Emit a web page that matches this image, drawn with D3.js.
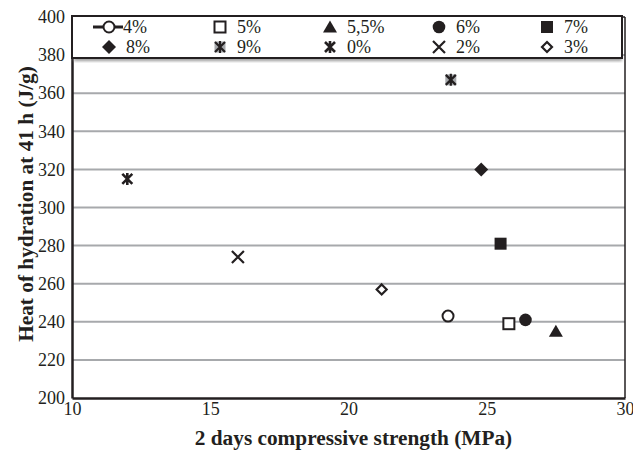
<!DOCTYPE html>
<html>
<head>
<meta charset="utf-8">
<script src="https://cdn.jsdelivr.net/npm/d3@7"></script>
<style>
  html, body { margin: 0; padding: 0; background: #fff; }
  svg { display: block; }
</style>
</head>
<body>
<svg id="chart" width="633" height="452"></svg>
<script>
// Mixes: additive dosage, 2-day compressive strength (MPa), heat of hydration at 41 h (J/g)
const seriesNames = ["4%", "5%", "5,5%", "6%", "7%", "8%", "9%", "0%", "2%", "3%"];
const strength    = [23.6, 25.8, 27.5, 26.4, 25.5, 24.8, 23.7, 12.0, 16.0, 21.2];
const heat        = [243, 239, 235, 241, 281, 320, 367, 315, 274, 257];
const markerTypes = ["circleOpen", "squareOpen", "triangle", "circle", "square",
                     "diamond", "starBox", "star", "cross", "diamondOpen"];

const xTicks = [10, 15, 20, 25, 30];
const yTicks = [200, 220, 240, 260, 280, 300, 320, 340, 360, 380, 400];

const ink = "#231f20";
const serif = "'Liberation Serif', 'Times New Roman', serif";
const svg = d3.select("#chart");

const x = d3.scaleLinear().domain([10, 30]).range([72, 625]);
const y = d3.scaleLinear().domain([200, 400]).range([398, 17]);

// horizontal gridlines
svg.append("g")
  .selectAll("line")
  .data(yTicks.filter(v => v > 200 && v < 400))
  .join("line")
  .attr("x1", x(10)).attr("x2", x(30))
  .attr("y1", d => y(d)).attr("y2", d => y(d))
  .attr("stroke", "#a7a9ac").attr("stroke-width", 2);

// plot frame: right and top borders thin, left and bottom axes heavier
svg.append("line").attr("x1", x(30)).attr("x2", x(30)).attr("y1", y(400)).attr("y2", y(200))
  .attr("stroke", ink).attr("stroke-width", 1.5);
svg.append("line").attr("x1", x(10)).attr("x2", x(30)).attr("y1", y(400)).attr("y2", y(400))
  .attr("stroke", ink).attr("stroke-width", 1.5);

// y axis
const yAxis = svg.append("g")
  .attr("transform", `translate(${x(10)},0)`)
  .call(d3.axisLeft(y).tickValues(yTicks).tickSize(0).tickPadding(7).tickFormat(d3.format("d")));
yAxis.attr("font-family", serif).attr("font-size", 18);
yAxis.select(".domain").attr("stroke", ink).attr("stroke-width", 2.5);
yAxis.selectAll("text").attr("fill", ink);

// x axis
const xAxis = svg.append("g")
  .attr("transform", `translate(0,${y(200)})`)
  .call(d3.axisBottom(x).tickValues(xTicks).tickSize(0).tickPadding(4).tickFormat(d3.format("d")));
xAxis.attr("font-family", serif).attr("font-size", 18);
xAxis.select(".domain").attr("stroke", ink).attr("stroke-width", 2.5);
xAxis.selectAll("text").attr("fill", ink);

// axis titles
svg.append("text")
  .attr("x", (x(10) + x(30)) / 2 + 5).attr("y", 445)
  .attr("text-anchor", "middle")
  .attr("font-family", serif).attr("font-size", 21.3).attr("font-weight", "bold").attr("fill", ink)
  .text("2 days compressive strength (MPa)");

svg.append("text")
  .attr("transform", `translate(33,204) rotate(-90)`)
  .attr("text-anchor", "middle")
  .attr("font-family", serif).attr("font-size", 21.3).attr("font-weight", "bold").attr("fill", ink)
  .text("Heat of hydration at 41 h (J/g)");

// marker drawing
function drawMarker(g, type) {
  const sw = 2;
  switch (type) {
    case "circleOpen":
      g.append("circle").attr("r", 5.5).attr("fill", "#fff").attr("stroke", ink).attr("stroke-width", sw);
      break;
    case "squareOpen":
      g.append("rect").attr("x", -5.5).attr("y", -5.5).attr("width", 11).attr("height", 11)
        .attr("fill", "#fff").attr("stroke", ink).attr("stroke-width", sw);
      break;
    case "triangle":
      g.append("path").attr("d", "M0,-6.5L7,5.5L-7,5.5Z").attr("fill", ink);
      break;
    case "circle":
      g.append("circle").attr("r", 6.3).attr("fill", ink);
      break;
    case "square":
      g.append("rect").attr("x", -6).attr("y", -6).attr("width", 12).attr("height", 12).attr("fill", ink);
      break;
    case "diamond":
      g.append("path").attr("d", "M0,-7L7,0L0,7L-7,0Z").attr("fill", ink);
      break;
    case "diamondOpen":
      g.append("path").attr("d", "M0,-5L5,0L0,5L-5,0Z").attr("fill", "#fff")
        .attr("stroke", ink).attr("stroke-width", 2.2);
      break;
    case "cross":
      g.append("path").attr("d", "M-6,-6L6,6M6,-6L-6,6").attr("stroke", ink)
        .attr("stroke-width", 2.2).attr("fill", "none");
      break;
    case "starBox":
      g.append("rect").attr("x", -5.5).attr("y", -5.5).attr("width", 11).attr("height", 11)
        .attr("fill", "#a7a9ac");
      g.append("path").attr("d", "M-5,-5L5,5M5,-5L-5,5M0,-6L0,6").attr("stroke", ink)
        .attr("stroke-width", 2.2).attr("fill", "none");
      break;
    case "star":
      g.append("path").attr("d", "M-5,-5L5,5M5,-5L-5,5M0,-6L0,6").attr("stroke", ink)
        .attr("stroke-width", 2.6).attr("fill", "none");
      break;
  }
}

// data points
const points = seriesNames.map((name, i) => ({ name, sx: strength[i], hy: heat[i], type: markerTypes[i] }));
svg.append("g")
  .selectAll("g")
  .data(points)
  .join("g")
  .attr("transform", d => `translate(${x(d.sx)},${y(d.hy)})`)
  .each(function (d) { drawMarker(d3.select(this), d.type); });

// legend box with soft shadow below
const defs = svg.append("defs");
defs.append("filter").attr("id", "shadow").attr("x", "-5%").attr("y", "-50%").attr("width", "110%").attr("height", "200%")
  .append("feGaussianBlur").attr("stdDeviation", 1.5);

const legendBox = { x0: 72, y0: 16, x1: 622, y1: 58 };
svg.append("rect")
  .attr("x", legendBox.x0 + 2).attr("y", legendBox.y1 - 1)
  .attr("width", legendBox.x1 - legendBox.x0 - 2).attr("height", 4)
  .attr("fill", "#9a9a9a").attr("filter", "url(#shadow)");
svg.append("rect")
  .attr("x", legendBox.x0).attr("y", legendBox.y0)
  .attr("width", legendBox.x1 - legendBox.x0).attr("height", legendBox.y1 - legendBox.y0)
  .attr("fill", "#fff").attr("stroke", ink).attr("stroke-width", 2);

const colX = [109, 220, 330, 439, 547];
const rowY = [27, 47];
const legend = svg.append("g")
  .selectAll("g")
  .data(points)
  .join("g")
  .attr("transform", (d, i) => `translate(${colX[i % 5]},${rowY[Math.floor(i / 5)]})`);

legend.each(function (d, i) {
  const g = d3.select(this);
  if (i === 0) {
    g.append("line").attr("x1", -16).attr("x2", 14).attr("y1", 0).attr("y2", 0)
      .attr("stroke", ink).attr("stroke-width", 3);
  }
  drawMarker(g, d.type);
  g.append("text")
    .attr("x", i === 0 ? 14 : 17).attr("y", 6)
    .attr("font-family", serif).attr("font-size", 18).attr("fill", ink)
    .text(d.name);
});
</script>
</body>
</html>
